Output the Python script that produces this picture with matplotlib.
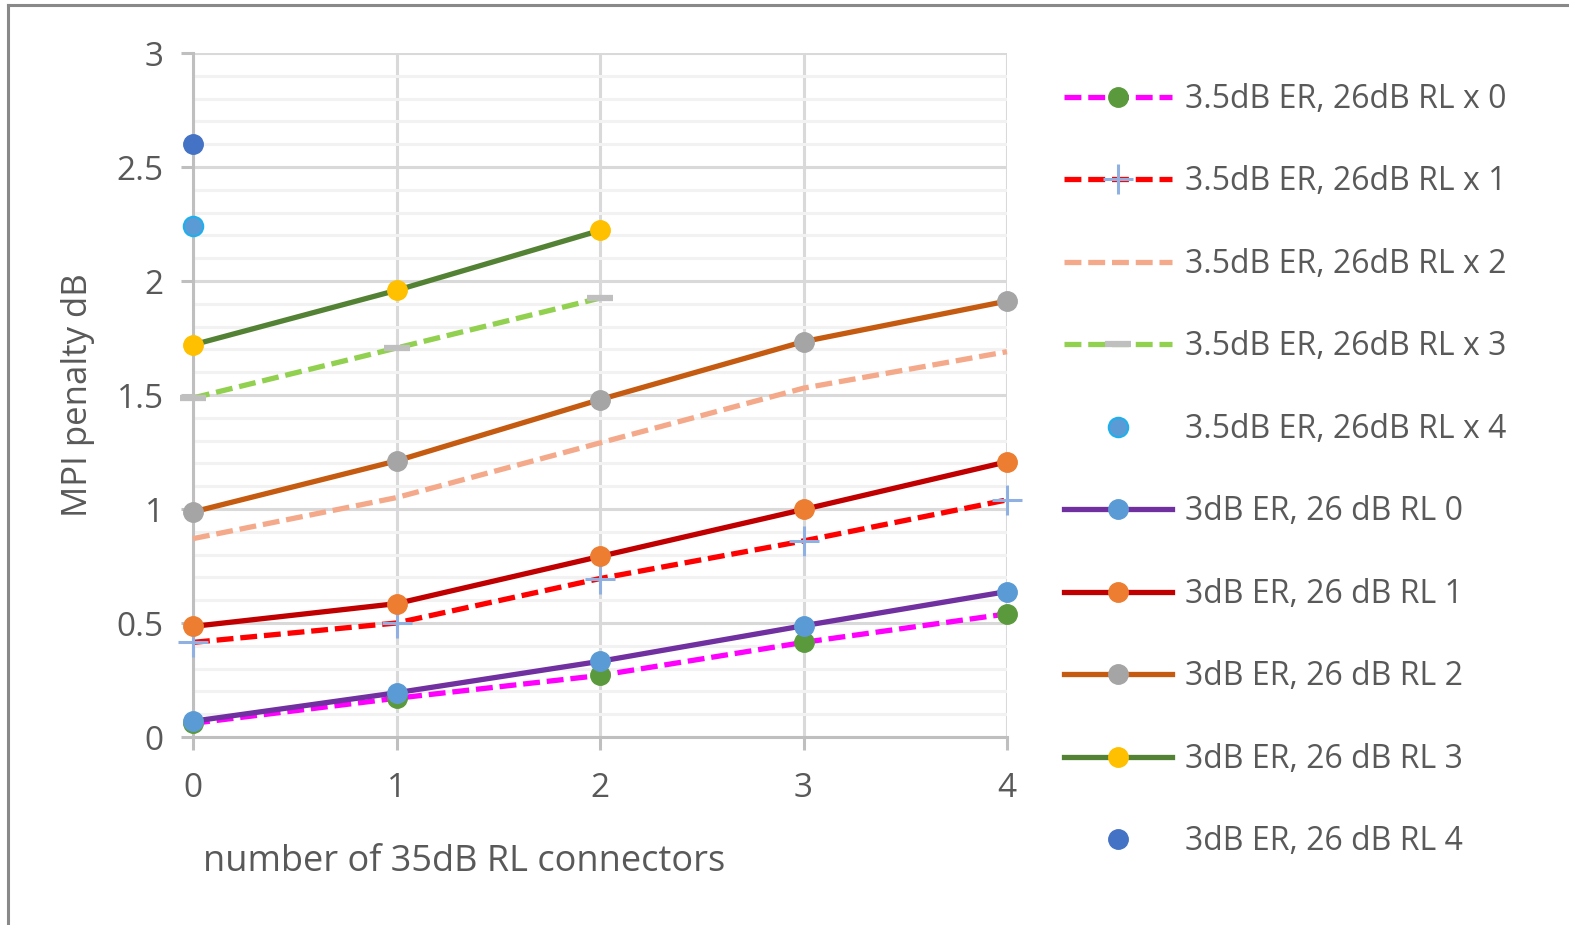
import matplotlib.pyplot as plt
from matplotlib.lines import Line2D

# connectors on the x axis
connectors = [0, 1, 2, 3, 4]

# 3.5dB ER, 26dB RL x n
er35_x0 = [0.06, 0.17, 0.27, 0.415, 0.54]
er35_x1 = [0.415, 0.50, 0.695, 0.86, 1.04]
er35_x2 = [0.87, 1.05, 1.29, 1.53, 1.69]
er35_x3 = [1.487, 1.706, 1.925]
er35_x4 = [2.243]

# 3dB ER, 26 dB RL n
er3_0 = [0.069, 0.194, 0.332, 0.488, 0.638]
er3_1 = [0.485, 0.585, 0.792, 0.998, 1.207]
er3_2 = [0.987, 1.211, 1.48, 1.734, 1.912]
er3_3 = [1.72, 1.959, 2.222]
er3_4 = [2.60]

labels = ['3.5dB ER, 26dB RL x 0', '3.5dB ER, 26dB RL x 1',
          '3.5dB ER, 26dB RL x 2', '3.5dB ER, 26dB RL x 3',
          '3.5dB ER, 26dB RL x 4',
          '3dB ER, 26 dB RL 0', '3dB ER, 26 dB RL 1', '3dB ER, 26 dB RL 2',
          '3dB ER, 26 dB RL 3', '3dB ER, 26 dB RL 4']

plt.rcParams['font.family'] = ['Open Sans', 'DejaVu Sans']
text_col = '#595959'
dash = (0, (3.2, 1.3))
lw = 3.8

fig = plt.figure(figsize=(15.69, 9.25), dpi=100)
ax = fig.add_axes([193 / 1569, 1 - 737 / 925, (1007 - 193) / 1569, (737 - 53) / 925])

series = [
    (er35_x0, dict(color='#ff00ff', ls=dash, lw=lw, marker='o', ms=14,
                   mfc='#5b9a3c', mec='#5b9a3c')),
    (er35_x1, dict(color='#ff0000', ls=dash, lw=lw, marker='+', ms=22,
                   mew=2.2, mec='#8fb0e0')),
    (er35_x2, dict(color='#f4a98a', ls=dash, lw=lw)),
    (er35_x3, dict(color='#92d050', ls=dash, lw=lw, marker='_', ms=19,
                   mew=4.5, mec='#bfbfbf')),
    (er35_x4, dict(ls='none', marker='o', ms=14, mfc='#5b9bd5', mec='#1fb0ec',
                   mew=1.5)),
    (er3_0, dict(color='#7030a0', lw=lw, marker='o', ms=14,
                 mfc='#5b9bd5', mec='#5b9bd5')),
    (er3_1, dict(color='#c00000', lw=lw, marker='o', ms=14,
                 mfc='#ed7d31', mec='#ed7d31')),
    (er3_2, dict(color='#c55a11', lw=lw, marker='o', ms=14,
                 mfc='#a5a5a5', mec='#a5a5a5')),
    (er3_3, dict(color='#548235', lw=lw, marker='o', ms=14,
                 mfc='#ffc000', mec='#ffc000')),
    (er3_4, dict(ls='none', marker='o', ms=14, mfc='#4472c4', mec='#4472c4')),
]

handles = []
for (vals, style), lab in zip(series, labels):
    ax.plot(connectors[:len(vals)], vals, clip_on=False, zorder=3, **style)
    handles.append(Line2D([], [], **style))

ax.set_xlim(0, 4)
ax.set_ylim(0, 3)
ax.set_xticks(connectors)
ax.set_yticks([0, 0.5, 1, 1.5, 2, 2.5, 3])
ax.set_yticklabels(['0', '0.5', '1', '1.5', '2', '2.5', '3'])
ax.set_yticks([i / 10 for i in range(31) if i % 5], minor=True)

ax.grid(which='major', color='#d9d9d9', lw=2.2, zorder=0)
ax.grid(which='minor', axis='y', color='#f2f2f2', lw=2.2, zorder=0)
ax.set_axisbelow(True)
for s in ['top', 'right']:
    ax.spines[s].set_visible(False)
for s in ['left', 'bottom']:
    ax.spines[s].set_color('#bfbfbf')
    ax.spines[s].set_linewidth(2.2)
ax.tick_params(which='major', length=9, width=2.2, color='#bfbfbf',
               labelsize=24, labelcolor=text_col, pad=12)
ax.tick_params(which='minor', length=0)
ax.tick_params(axis='x', pad=16)

fig.text(78 / 1569, 1 - 395 / 925, 'MPI penalty dB', rotation=90,
         ha='center', va='center', fontsize=25, color=text_col)
fig.text(203 / 1569, 1 - 862 / 925, 'number of 35dB RL connectors',
         ha='left', va='center', fontsize=26, color=text_col)

leg = fig.legend(handles, labels, loc='upper left',
                 bbox_to_anchor=(1035 / 1569, 1 - 54 / 925), frameon=False,
                 fontsize=23, handlelength=3.4, handletextpad=0.4,
                 labelspacing=1.55, labelcolor=text_col)

# outer chart frame
fig.add_artist(Line2D([8 / 1569, 8 / 1569], [0, 1 - 5 / 925],
                      transform=fig.transFigure, color='#898989', lw=2.2))
fig.add_artist(Line2D([8 / 1569, 1], [1 - 5 / 925, 1 - 5 / 925],
                      transform=fig.transFigure, color='#898989', lw=2.2))

fig.savefig('out.png', dpi=100, facecolor='white')
